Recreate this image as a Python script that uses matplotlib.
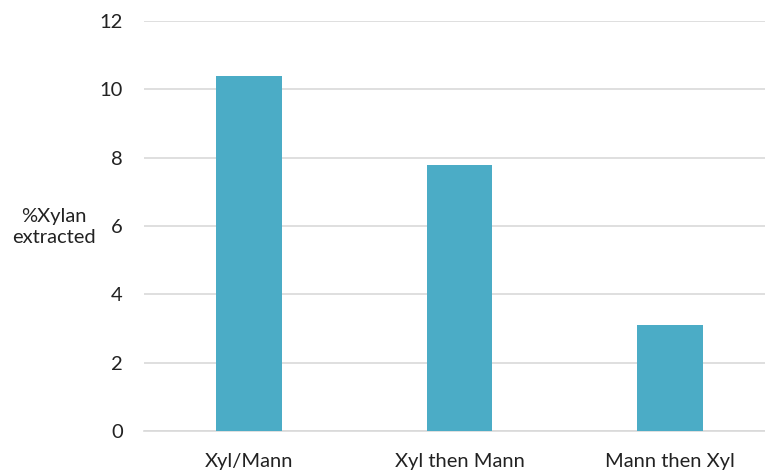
import matplotlib.pyplot as plt

categories = ['Xyl/Mann', 'Xyl then Mann', 'Mann then Xyl']
xylan_extracted = [10.4, 7.8, 3.1]
y_ticks = [0, 2, 4, 6, 8, 10, 12]

plt.rcParams['font.family'] = ['Lato', 'DejaVu Sans']

fig = plt.figure(figsize=(7.65, 4.70), dpi=100)
ax = fig.add_axes([143.75 / 765, 39 / 470, 631.5 / 765, 410 / 470])

x = range(len(categories))
ax.bar(x, xylan_extracted, width=0.31, color='#4BACC6', zorder=3)

ax.set_xlim(-0.5, len(categories) - 0.5)
ax.set_ylim(0, 12)
ax.set_yticks(y_ticks)
ax.set_xticks(list(x))
ax.set_xticklabels(categories)

ax.grid(axis='y', color='#D9D9D9', linewidth=1.2, zorder=0)
for side in ['top', 'right', 'left']:
    ax.spines[side].set_visible(False)
ax.spines['bottom'].set_color('#D9D9D9')
ax.spines['bottom'].set_linewidth(1.2)
ax.tick_params(axis='both', length=0, labelsize=14.5, colors='#222222')
ax.tick_params(axis='y', pad=15)
ax.tick_params(axis='x', pad=16)

fig.text(54 / 765, 1 - 227 / 470, '%Xylan\nextracted', ha='center', va='center',
         fontsize=14.5, color='#222222', linespacing=1.25)

fig.savefig('out.png', dpi=100)
